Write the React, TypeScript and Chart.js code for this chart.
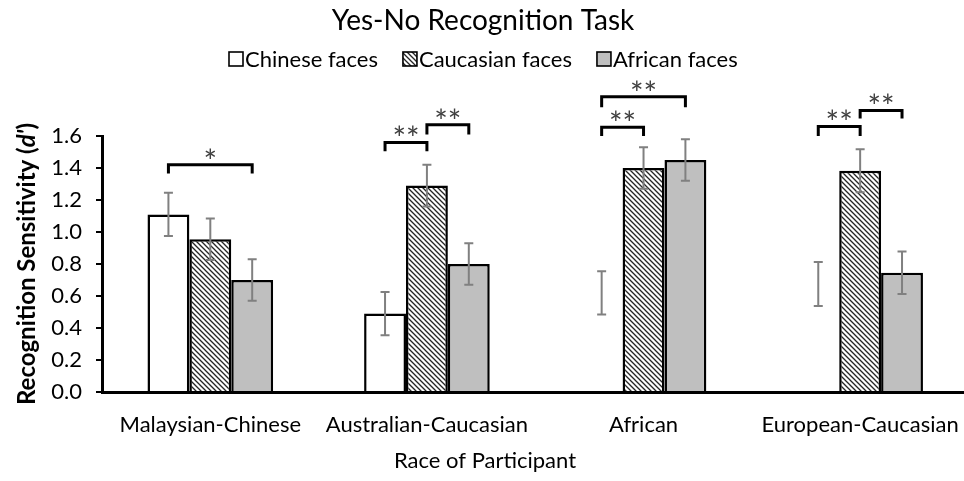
import React, { useEffect, useRef } from "react";
import { Chart, registerables } from "chart.js";

Chart.register(...registerables);

const FONT = "Lato, 'Open Sans', sans-serif";

const titleText = "Yes-No Recognition Task";
const xAxisTitle = "Race of Participant";
const categories = ["Malaysian-Chinese", "Australian-Caucasian", "African", "European-Caucasian"];
const seriesNames = ["Chinese faces", "Caucasian faces", "African faces"];

const chineseFaces = [1.11, 0.49, 0.62, 0.675];
const caucasianFaces = [0.955, 1.29, 1.4, 1.383];
const africanFaces = [0.7, 0.8, 1.45, 0.745];
const chineseErr = [0.135, 0.135, 0.135, 0.137];
const caucasianErr = [0.13, 0.13, 0.13, 0.134];
const africanErr = [0.13, 0.13, 0.13, 0.133];
const chineseBarVisible = [true, true, false, false];

const yMin = 0;
const yMax = 1.6;
const yStep = 0.2;

// significance brackets: group index, from-series, to-series, top value, leg value, label
const bracketGroup = [0, 1, 1, 2, 2, 3, 3];
const bracketFrom = [0, 0, 1, 0, 0, 0, 1];
const bracketTo = [2, 1, 2, 1, 2, 1, 2];
const bracketTop = [1.42, 1.56, 1.67, 1.655, 1.845, 1.66, 1.76];
const bracketLeg = [1.365, 1.505, 1.61, 1.6, 1.78, 1.6, 1.71];
const bracketLabel = ["*", "**", "**", "**", "**", "**", "**"];

export default function App() {
  const ref = useRef<HTMLCanvasElement>(null);

  useEffect(() => {
    const canvas = ref.current!;
    const ctx = canvas.getContext("2d")!;

    const pc = document.createElement("canvas");
    pc.width = 5;
    pc.height = 5;
    const p = pc.getContext("2d")!;
    p.fillStyle = "#ffffff";
    p.fillRect(0, 0, 5, 5);
    p.strokeStyle = "#262626";
    p.lineWidth = 1.3;
    p.beginPath();
    p.moveTo(-1, -1);
    p.lineTo(6, 6);
    p.moveTo(-1, 4);
    p.lineTo(1, 6);
    p.moveTo(4, -1);
    p.lineTo(6, 1);
    p.stroke();
    const hatch = ctx.createPattern(pc, "repeat")!;

    const fills: any[] = ["#ffffff", hatch, "#bfbfbf"];
    const errs = [chineseErr, caucasianErr, africanErr];
    const vals = [chineseFaces, caucasianFaces, africanFaces];

    const overlay = {
      id: "overlay",
      afterDatasetsDraw(chart: any) {
        const c = chart.ctx;
        const ys = chart.scales.y;
        c.save();
        // error bars
        c.strokeStyle = "#808080";
        c.lineWidth = 2;
        for (let s = 0; s < 3; s++) {
          const meta = chart.getDatasetMeta(s);
          meta.data.forEach((el: any, i: number) => {
            const v = vals[s][i];
            const e = errs[s][i];
            const x = el.x;
            const y1 = ys.getPixelForValue(v + e);
            const y2 = ys.getPixelForValue(v - e);
            c.beginPath();
            c.moveTo(x, y1);
            c.lineTo(x, y2);
            c.moveTo(x - 4.5, y1);
            c.lineTo(x + 4.5, y1);
            c.moveTo(x - 4.5, y2);
            c.lineTo(x + 4.5, y2);
            c.stroke();
          });
        }
        // brackets
        c.strokeStyle = "#000";
        c.lineWidth = 3;
        c.lineJoin = "miter";
        c.font = `32px ${FONT}`;
        c.fillStyle = "#404040";
        c.textAlign = "center";
        c.textBaseline = "alphabetic";
        for (let b = 0; b < bracketGroup.length; b++) {
          const g = bracketGroup[b];
          const x1 = chart.getDatasetMeta(bracketFrom[b]).data[g].x;
          const x2 = chart.getDatasetMeta(bracketTo[b]).data[g].x;
          const yt = ys.getPixelForValue(bracketTop[b]);
          const yl = ys.getPixelForValue(bracketLeg[b]);
          c.beginPath();
          c.moveTo(x1, yl);
          c.lineTo(x1, yt);
          c.lineTo(x2, yt);
          c.lineTo(x2, yl);
          c.stroke();
          c.fillText(bracketLabel[b], (x1 + x2) / 2, yt + 8);
        }
        c.restore();
      },
      afterDraw(chart: any) {
        const c = chart.ctx;
        c.save();
        c.fillStyle = "#000";
        c.textBaseline = "middle";
        c.textAlign = "center";
        c.font = `28px ${FONT}`;
        c.fillText(titleText, 483, 21);

        // legend
        c.font = `22px ${FONT}`;
        c.textAlign = "left";
        let lx = 229;
        const ly = 59;
        for (let s = 0; s < 3; s++) {
          c.fillStyle = fills[s];
          c.fillRect(lx, ly - 7, 14, 14);
          c.strokeStyle = "#000";
          c.lineWidth = 1.6;
          c.strokeRect(lx, ly - 7, 14, 14);
          c.fillStyle = "#000";
          c.fillText(seriesNames[s], lx + 16, ly + 1);
          lx += 16 + c.measureText(seriesNames[s]).width + 25;
        }

        // x axis title
        c.textAlign = "center";
        c.fillText(xAxisTitle, 485, 461);

        // y axis title
        c.translate(27, 264);
        c.rotate(-Math.PI / 2);
        const parts: [string, string][] = [
          [`bold 24px ${FONT}`, "Recognition Sensitivity ("],
          [`italic bold 24px ${FONT}`, "d'"],
          [`bold 24px ${FONT}`, ")"],
        ];
        let total = 0;
        for (const [f, t] of parts) {
          c.font = f;
          total += c.measureText(t).width;
        }
        let px = -total / 2;
        c.textAlign = "left";
        for (const [f, t] of parts) {
          c.font = f;
          c.fillText(t, px, 0);
          px += c.measureText(t).width;
        }
        c.restore();
      },
    };

    const chart = new Chart(ctx, {
      type: "bar",
      data: {
        labels: categories,
        datasets: [
          {
            label: seriesNames[0],
            data: chineseFaces,
            backgroundColor: chineseBarVisible.map((v) => (v ? "#ffffff" : "rgba(0,0,0,0)")),
            borderColor: chineseBarVisible.map((v) => (v ? "#000000" : "rgba(0,0,0,0)")),
            borderWidth: 2.5,
          },
          {
            label: seriesNames[1],
            data: caucasianFaces,
            backgroundColor: hatch as any,
            borderColor: "#000000",
            borderWidth: 2.5,
          },
          {
            label: seriesNames[2],
            data: africanFaces,
            backgroundColor: "#bfbfbf",
            borderColor: "#000000",
            borderWidth: 2.5,
          },
        ],
      },
      options: {
        responsive: false,
        animation: false,
        layout: { padding: { top: 136, right: 10, left: 0, bottom: 0 } },
        datasets: { bar: { categoryPercentage: 0.58, barPercentage: 1 } },
        plugins: {
          legend: { display: false },
          title: { display: false },
          tooltip: { enabled: false },
        },
        scales: {
          x: {
            grid: { display: false, drawTicks: false },
            border: { display: true, color: "#000", width: 3 },
            ticks: { color: "#000", font: { family: FONT, size: 22 }, padding: 20, maxRotation: 0, autoSkip: false },
            afterFit: (s: any) => {
              s.height = 89;
            },
          },
          y: {
            min: yMin,
            max: yMax,
            grid: { drawOnChartArea: false, drawTicks: true, tickLength: 6, color: "#000", lineWidth: 2 },
            border: { display: true, color: "#000", width: 3 },
            ticks: {
              stepSize: yStep,
              color: "#000",
              font: { family: FONT, size: 22 },
              padding: 14,
              callback: (v: any) => Number(v).toFixed(1),
            },
            afterFit: (s: any) => {
              s.width = 102;
            },
          },
        },
      },
      plugins: [overlay],
    });

    return () => chart.destroy();
  }, []);

  return (
    <div style={{ position: "fixed", left: 0, top: 0, width: 964, height: 481, overflow: "hidden", background: "#fff" }}>
      <canvas ref={ref} width={980} height={481} style={{ display: "block" }} />
    </div>
  );
}
